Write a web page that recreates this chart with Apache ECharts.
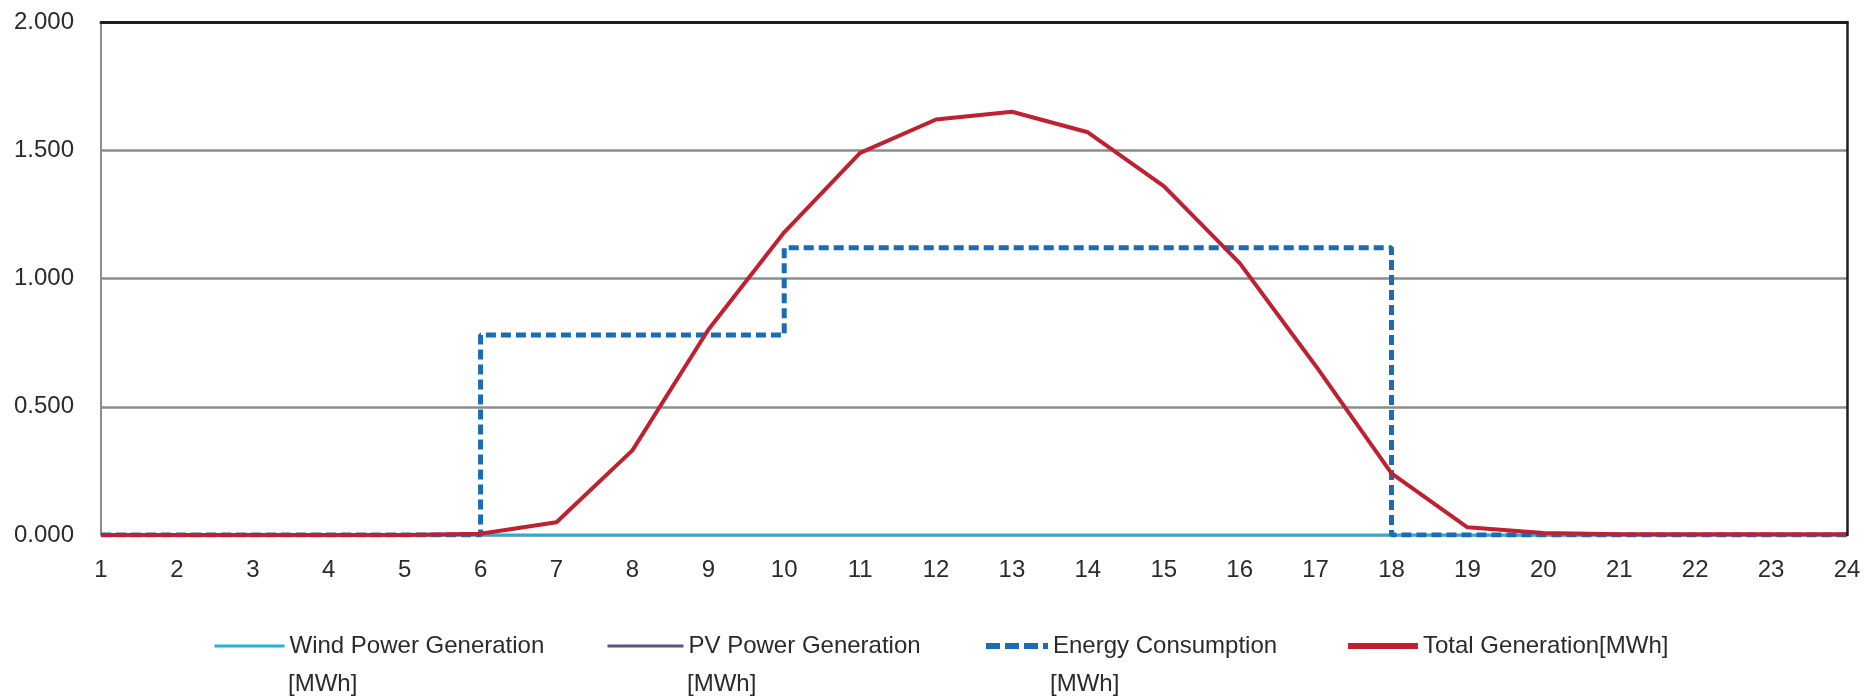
<!DOCTYPE html>
<html>
<head>
<meta charset="utf-8">
<script src="https://cdn.jsdelivr.net/npm/echarts@6/dist/echarts.min.js"></script>
<style>
  html, body { margin: 0; padding: 0; background: #ffffff; }
  #chart { width: 1872px; height: 700px; }
</style>
</head>
<body>
<div id="chart"></div>
<script>
const HOURS = ["1","2","3","4","5","6","7","8","9","10","11","12","13","14","15","16","17","18","19","20","21","22","23","24"];
const WIND_GEN = [0,0,0,0,0,0,0,0,0,0,0,0,0,0,0,0,0,0,0,0,0,0,0,0];
const PV_GEN = [0,0,0,0,0,0.005,0.05,0.33,0.80,1.18,1.49,1.62,1.65,1.57,1.36,1.06,0.66,0.24,0.03,0.008,0.003,0.003,0.003,0.003];
const CONSUMPTION = [0,0,0,0,0,0.78,0.78,0.78,0.78,1.12,1.12,1.12,1.12,1.12,1.12,1.12,1.12,0,0,0,0,0,0,0];
const TOTAL_GEN = [0,0,0,0,0,0.005,0.05,0.33,0.80,1.18,1.49,1.62,1.65,1.57,1.36,1.06,0.66,0.24,0.03,0.008,0.003,0.003,0.003,0.003];
const Y_TICKS = [0, 0.5, 1.0, 1.5, 2.0];

const SERIES_NAMES = [
  "Wind Power Generation",
  "PV Power Generation",
  "Energy Consumption",
  "Total Generation[MWh]"
];

const fontFamily = "'Liberation Sans', Arial, sans-serif";
const textColor = "#2b2b2b";
const gridColor = "#8c8c8c";

const COLORS = ["#1fb1e6", "#5e4f86", "#1a6db5", "#c0202f"];

const chart = echarts.init(document.getElementById("chart"));

// one legend per item so the wrapped "[MWh]" line can sit under each label
const legendSpec = [
  { left: 213, itemWidth: 70, name: SERIES_NAMES[0], unit: true, lineWidth: 3, dash: "solid" },
  { left: 606, itemWidth: 76, name: SERIES_NAMES[1], unit: true, lineWidth: 3, dash: "solid" },
  { left: 983, itemWidth: 62, name: SERIES_NAMES[2], unit: true, lineWidth: 6, dash: [14, 5] },
  { left: 1345, itemWidth: 70, name: SERIES_NAMES[3], unit: false, lineWidth: 6, dash: "solid" }
];

const legend = legendSpec.map(spec => ({
  data: [spec.name],
  left: spec.left,
  top: 634,
  padding: 0,
  itemWidth: spec.itemWidth,
  itemHeight: 16,
  itemGap: 0,
  selectedMode: false,
  itemStyle: { opacity: 0 },
  lineStyle: { width: spec.lineWidth, type: spec.dash },
  textStyle: {
    fontFamily,
    fontSize: 24,
    color: textColor,
    padding: [0, 0, 0, 0]
  }
}));

const graphic = legendSpec
  .filter(spec => spec.unit)
  .map(spec => ({
    type: "text",
    left: spec.left + spec.itemWidth + 5,
    top: 672,
    silent: true,
    style: {
      text: "[MWh]",
      fontFamily,
      fontSize: 24,
      fill: textColor
    }
  }));

const option = {
  animation: false,
  backgroundColor: "#ffffff",
  legend,
  graphic,
  grid: {
    left: 101,
    right: 25,
    top: 22,
    bottom: 165
  },
  xAxis: [
    {
      type: "category",
      data: HOURS,
      boundaryGap: false,
      axisLine: { show: true, lineStyle: { color: gridColor, width: 2 } },
      axisTick: { show: false },
      axisLabel: {
        fontFamily,
        fontSize: 24,
        color: textColor,
        margin: 23,
        interval: 0
      },
      splitLine: { show: false }
    },
    {
      type: "category",
      data: HOURS,
      position: "top",
      boundaryGap: false,
      z: 10,
      axisLine: { show: true, onZero: false, lineStyle: { color: "#1e1e1e", width: 3 } },
      axisTick: { show: false },
      axisLabel: { show: false },
      splitLine: { show: false }
    }
  ],
  yAxis: [
    {
      type: "value",
      min: Y_TICKS[0],
      max: Y_TICKS[Y_TICKS.length - 1],
      interval: 0.5,
      axisLine: { show: true, lineStyle: { color: gridColor, width: 2 } },
      axisTick: { show: false },
      axisLabel: {
        fontFamily,
        fontSize: 24,
        color: textColor,
        margin: 27,
        formatter: value => value.toFixed(3)
      },
      splitLine: { show: true, lineStyle: { color: gridColor, width: 2.5 } }
    },
    {
      type: "value",
      position: "right",
      min: Y_TICKS[0],
      max: Y_TICKS[Y_TICKS.length - 1],
      interval: 0.5,
      z: 10,
      axisLine: { show: true, onZero: false, lineStyle: { color: "#1e1e1e", width: 2.5 } },
      axisTick: { show: false },
      axisLabel: { show: false },
      splitLine: { show: false }
    }
  ],
  series: [
    {
      name: SERIES_NAMES[0],
      type: "line",
      data: WIND_GEN,
      symbol: "none",
      color: COLORS[0],
      lineStyle: { color: COLORS[0], width: 3 },
      z: 2
    },
    {
      name: SERIES_NAMES[1],
      type: "line",
      data: PV_GEN,
      symbol: "none",
      color: COLORS[1],
      lineStyle: { color: COLORS[1], width: 2 },
      z: 3
    },
    {
      name: SERIES_NAMES[2],
      type: "line",
      data: CONSUMPTION,
      step: "end",
      symbol: "none",
      color: COLORS[2],
      lineStyle: { color: COLORS[2], width: 5, type: [10, 5] },
      z: 4
    },
    {
      name: SERIES_NAMES[3],
      type: "line",
      data: TOTAL_GEN,
      symbol: "none",
      color: COLORS[3],
      lineStyle: { color: COLORS[3], width: 4 },
      z: 5
    }
  ]
};

chart.setOption(option);
</script>
</body>
</html>
